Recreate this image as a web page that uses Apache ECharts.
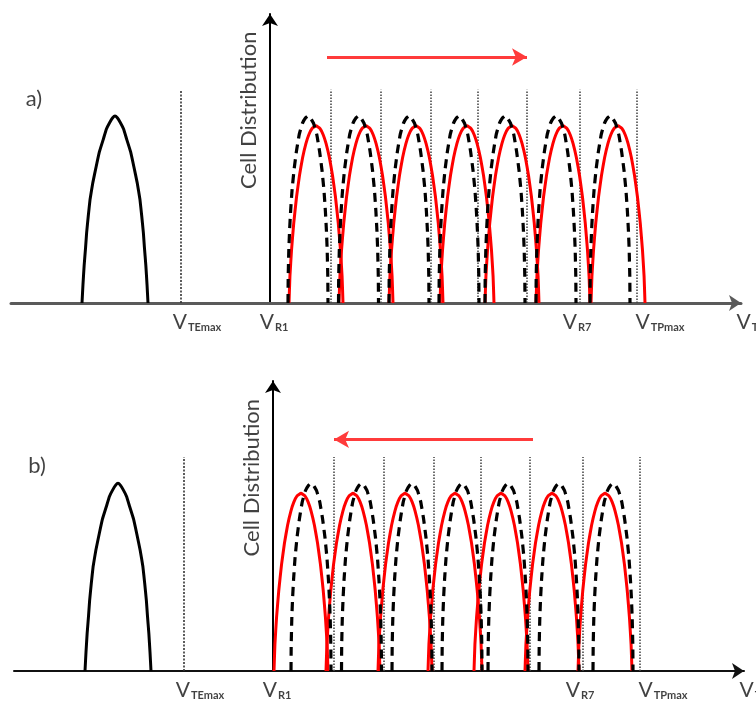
<!DOCTYPE html>
<html>
<head>
<meta charset="utf-8">
<script src="https://cdn.jsdelivr.net/npm/echarts@6/dist/echarts.min.js"></script>
<style>
  html, body { margin: 0; padding: 0; background: #fff; }
  #main { width: 756px; height: 706px; }
</style>
</head>
<body>
<div id="main"></div>
<script>
// distribution shapes, left half (dx in half-widths, y in peaks); mirrored for the right half
var ERASED_DX = [-1, -0.97, -0.935, -0.89, -0.86, -0.81, -0.755, -0.67, -0.57, -0.47, -0.355, -0.26, -0.16, -0.07, 0];
var ERASED_Y  = [0, 0.1, 0.2, 0.3, 0.375, 0.465, 0.555, 0.645, 0.73, 0.81, 0.875, 0.93, 0.965, 0.99, 1];
var ORIG_DX = [-1, -0.99, -0.96, -0.92, -0.87, -0.8, -0.7, -0.58, -0.44, -0.28, -0.12, 0];
var ORIG_Y  = [0, 0.14, 0.28, 0.39, 0.49, 0.6, 0.71, 0.81, 0.9, 0.96, 0.99, 1];
var SHIFT_DX = [-1, -0.966, -0.906, -0.825, -0.72, -0.612, -0.497, -0.374, -0.266, -0.146, 0];
var SHIFT_Y  = [0, 0.15, 0.3, 0.45, 0.6, 0.72, 0.82, 0.9, 0.95, 0.985, 1];

// erased state
var ERASED_CENTER = -3.1;
var ERASED_HW = 0.66;
var ERASED_PEAK = 1.0;

// programmed states: original (dashed) and shifted (red)
var ORIG_CENTERS = [0.76, 1.77, 2.78, 3.78, 4.7, 5.72, 6.8];
var ORIG_HW = 0.4;
var ORIG_PEAK = 1.0;
var SHIFT_CENTERS_A = [0.92, 1.92, 2.92, 3.94, 4.84, 5.86, 6.96];
var SHIFT_CENTERS_B = [0.56, 1.6, 2.64, 3.64, 4.56, 5.58, 6.64];
var SHIFT_HW = 0.54;
var SHIFT_PEAK = 0.947;

// vertical guides
var TEMAX = -1.78;
var READ_LEVELS = [1.22, 2.22, 3.22, 4.16, 5.14, 6.2, 7.34];
var GUIDE_TOP = 1.14;

// shift arrows [from, to, height]
var ARROW_A = [1.14, 5.14, 1.315];
var ARROW_B = [5.2, 1.22, 1.234];

// axis text: position and subscript
var TICK_POS = [-1.46, 0.08, 6.14, 7.8, 9.55];
var TICK_SUB = ['TEmax', 'R1', 'R7', 'TPmax', 'T'];
var PANEL_NAMES = ['a)', 'b)'];

var XMIN = -5.18, XMAX = 9.42, YMAX = 1.545;

function curve(dxs, ys, center, hw, peak) {
  var left = dxs.map(function (d, i) { return [center + d * hw, ys[i] * peak]; });
  var right = [];
  for (var i = dxs.length - 2; i >= 0; i--) right.push([center - dxs[i] * hw, ys[i] * peak]);
  return left.concat(right);
}

function lineSeries(p, data, color, width, type, z) {
  return {
    type: 'line', xAxisIndex: p, yAxisIndex: p, data: data,
    smooth: 0.1, showSymbol: false, symbol: 'none', silent: true, z: z,
    lineStyle: { color: color, width: width, type: type }
  };
}

var series = [];
[0, 1].forEach(function (p) {
  var shifted = p === 0 ? SHIFT_CENTERS_A : SHIFT_CENTERS_B;
  var arrow = p === 0 ? ARROW_A : ARROW_B;

  // guides
  var tem = lineSeries(p, [[TEMAX, 0], [TEMAX, GUIDE_TOP]], '#333', 1.6, [2, 1.5], 1);
  tem.smooth = false;
  series.push(tem);
  READ_LEVELS.forEach(function (v) {
    var s = lineSeries(p, [[v, 0], [v, GUIDE_TOP]], '#4a4a4a', 1.6, [1.5, 1.5], 1);
    s.smooth = false;
    series.push(s);
  });

  series.push(lineSeries(p, curve(ERASED_DX, ERASED_Y, ERASED_CENTER, ERASED_HW, ERASED_PEAK), '#000', 3, 'solid', 3));
  shifted.forEach(function (c) {
    series.push(lineSeries(p, curve(SHIFT_DX, SHIFT_Y, c, SHIFT_HW, SHIFT_PEAK), '#ff0000', 3, 'solid', 3));
  });
  ORIG_CENTERS.forEach(function (c) {
    series.push(lineSeries(p, curve(ORIG_DX, ORIG_Y, c, ORIG_HW, ORIG_PEAK), '#000', 3.2, [9, 6], 4));
  });

  // arrow
  series.push({
    type: 'line', xAxisIndex: p, yAxisIndex: p, data: [], silent: true,
    markLine: {
      silent: true, symbol: ['none', 'arrow'], symbolSize: [13, 15],
      label: { show: false },
      lineStyle: { color: '#ff3b3b', width: 3, type: 'solid' },
      data: [[{ coord: [arrow[0], arrow[2]] }, { coord: [arrow[1], arrow[2]] }]]
    }
  });

  // axis texts
  series.push({
    type: 'scatter', xAxisIndex: p, yAxisIndex: p, clip: false, silent: true,
    symbolSize: 0,
    data: TICK_POS.map(function (x, i) { return [x, 0, TICK_SUB[i]]; }),
    label: {
      show: true, position: 'inside', offset: [0, 19],
      formatter: function (q) { return '{v|V}{s|' + q.data[2] + '}'; },
      rich: {
        v: { fontFamily: 'Lato', fontSize: 21, color: '#111' },
        s: { fontFamily: 'Lato', fontSize: 11, fontWeight: 'bold', color: '#111', padding: [10, 0, 0, 1] }
      }
    }
  });
  series.push({
    type: 'scatter', xAxisIndex: p, yAxisIndex: p, clip: false, silent: true,
    symbolSize: 0,
    data: [[-0.43, 1.03, 'Cell Distribution'], [-4.72, 1.09, PANEL_NAMES[p]]],
    label: {
      show: true, position: 'inside',
      formatter: function (q) { return q.data[2]; },
      fontFamily: 'Lato', fontSize: 22, color: '#111'
    },
    labelLayout: function (q) {
      return q.dataIndex === 0 ? { rotate: 90 } : {};
    }
  });
});

function xAxis(p) {
  return {
    gridIndex: p, type: 'value', min: XMIN, max: XMAX,
    splitLine: { show: false }, axisTick: { show: false }, axisLabel: { show: false },
    axisLine: {
      symbol: ['none', 'arrow'], symbolSize: [12, 12],
      lineStyle: { color: p === 0 ? '#5a5a5a' : '#111', width: p === 0 ? 3 : 2 }
    }
  };
}
function yAxis(p) {
  return {
    gridIndex: p, type: 'value', min: 0, max: YMAX,
    splitLine: { show: false }, axisTick: { show: false }, axisLabel: { show: false },
    axisLine: {
      onZero: true, symbol: ['none', 'arrow'], symbolSize: [12, 12],
      lineStyle: { color: '#000', width: 2 }
    }
  };
}

var chart = echarts.init(document.getElementById('main'));
chart.setOption({
  animation: false,
  backgroundColor: '#fff',
  grid: [
    { left: 11, right: 15, top: 14, bottom: 403 },
    { left: 14, right: 12, top: 381, bottom: 35 }
  ],
  xAxis: [xAxis(0), xAxis(1)],
  yAxis: [yAxis(0), yAxis(1)],
  series: series
});
</script>
</body>
</html>
